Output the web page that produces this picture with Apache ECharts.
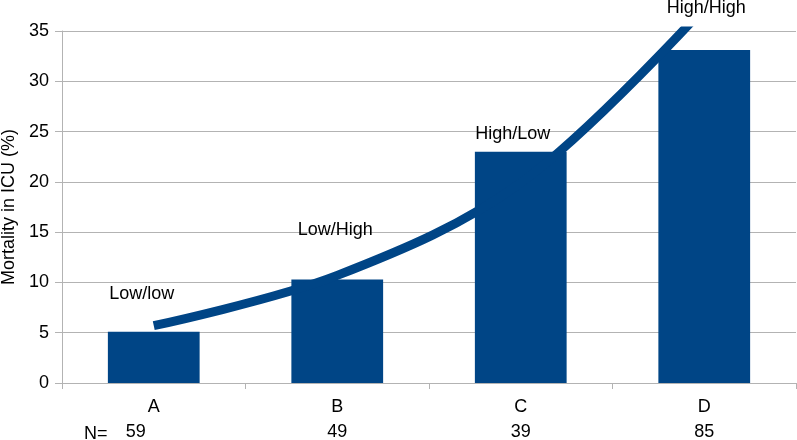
<!DOCTYPE html>
<html>
<head>
<meta charset="utf-8">
<script src="https://cdn.jsdelivr.net/npm/echarts@6/dist/echarts.min.js"></script>
<style>html,body{margin:0;padding:0;background:#fff}#c{width:797px;height:440px}</style>
</head>
<body>
<div id="c"></div>
<script>
var categories = ['A', 'B', 'C', 'D'];
var groupNames = ['Low/low', 'Low/High', 'High/Low', 'High/High'];
var nValues = ['59', '49', '39', '85'];
var mortality = [5.1, 10.3, 23.0, 33.1];
var trendValues = [5.7, 10.7, 19.9, 37.3];
var yTicks = [0, 5, 10, 15, 20, 25, 30, 35];

var labelOffsets = [[-12, -24], [-2, -35], [-8, -4], [2, -28]];
var FONT = '"Liberation Sans", Arial, sans-serif';
var BLUE = '#004586';

var chart = echarts.init(document.getElementById('c'), null, {renderer: 'canvas'});
chart.setOption({
  animation: false,
  textStyle: {fontFamily: FONT},
  grid: {left: 62, right: 1, top: 31, bottom: 57, containLabel: false, outerBoundsMode: 'none'},
  xAxis: {
    type: 'category',
    data: categories,
    boundaryGap: true,
    axisLine: {lineStyle: {color: '#b3b3b3', width: 1}},
    axisTick: {show: true, length: 6, lineStyle: {color: '#b3b3b3'}},
    axisLabel: {
      color: '#000', margin: 17,
      formatter: function (v, i) {
        return '{c|' + v + '}\n{' + (i === 0 ? 'n0' : 'n') + '|' + nValues[i] + '}';
      },
      rich: {
        c: {fontSize: 18, fontFamily: FONT, color: '#000', lineHeight: 22, padding: [0, 0, 7, 0]},
        n: {fontSize: 18, fontFamily: FONT, color: '#000', lineHeight: 20},
        n0: {fontSize: 18, fontFamily: FONT, color: '#000', lineHeight: 20, padding: [0, 36, 0, 0]}
      }
    }
  },
  yAxis: {
    type: 'value',
    min: yTicks[0], max: yTicks[yTicks.length - 1], interval: 5,
    name: 'Mortality in ICU (%)',
    nameLocation: 'middle', nameGap: 44, nameRotate: 90,
    nameTextStyle: {fontSize: 18, color: '#000', fontFamily: FONT},
    axisLine: {show: true, lineStyle: {color: '#b3b3b3'}},
    axisTick: {show: true, length: 7, lineStyle: {color: '#b3b3b3'}},
    axisLabel: {fontSize: 18, color: '#000', margin: 13},
    splitLine: {lineStyle: {color: '#b3b3b3', width: 1}}
  },
  series: [
    {
      type: 'bar',
      data: mortality.map(function (v, i) {
        return {
          value: v,
          label: {
            show: true, position: 'top', formatter: groupNames[i],
            offset: labelOffsets[i], fontSize: 18, color: '#000', fontFamily: FONT
          }
        };
      }),
      barWidth: '50%',
      itemStyle: {color: BLUE},
      z: 2
    },
    {
      type: 'line',
      data: trendValues,
      smooth: 0.35,
      symbol: 'none',
      clip: true,
      lineStyle: {color: BLUE, width: 9, cap: 'butt'},
      z: 3
    }
  ],
  graphic: [{
    type: 'text', left: 84, top: 425,
    style: {text: 'N=', fill: '#000', font: '18px ' + FONT}
  }]
});
</script>
</body>
</html>
